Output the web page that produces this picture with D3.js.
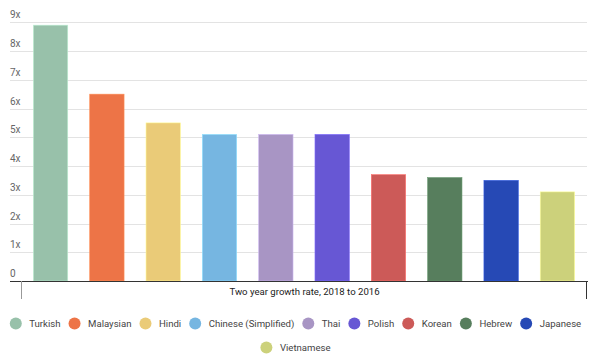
<!DOCTYPE html>
<html>
<head>
<meta charset="utf-8">
<script src="https://cdn.jsdelivr.net/npm/d3@7"></script>
<style>
  body { margin: 0; background: #fff; }
  text { font-family: Roboto, "Noto Sans", sans-serif; }
</style>
</head>
<body>
<svg id="chart" width="600" height="364"></svg>
<script>
const languages = ["Turkish", "Malaysian", "Hindi", "Chinese (Simplified)", "Thai", "Polish", "Korean", "Hebrew", "Japanese", "Vietnamese"];
const growth = [8.9, 6.5, 5.5, 5.1, 5.1, 5.1, 3.7, 3.6, 3.5, 3.1];
const colors = ["#98c1aa", "#ed7447", "#eacb78", "#76b6e1", "#a895c4", "#6757d4", "#cc5a58", "#577e5d", "#2649b5", "#ccd17b"];
const yTicks = [0, 1, 2, 3, 4, 5, 6, 7, 8, 9];
const categoryLabel = "Two year growth rate, 2018 to 2016";

const svg = d3.select("#chart");

const x = d3.scaleBand()
  .domain(languages)
  .range([21, 587])
  .paddingInner(0.39)
  .paddingOuter(0.22);

const y = d3.scaleLinear().domain([0, 9]).range([281, 22.3]);

// gridlines + labels
const grid = svg.append("g");
grid.selectAll("line")
  .data(yTicks.filter(d => d > 0))
  .join("line")
  .attr("x1", 10).attr("x2", 587)
  .attr("y1", d => Math.round(y(d)) + 0.5)
  .attr("y2", d => Math.round(y(d)) + 0.5)
  .attr("stroke", "#e3e3e3");

grid.selectAll("text")
  .data(yTicks)
  .join("text")
  .attr("x", 10)
  .attr("y", d => y(d) - 4)
  .attr("font-size", 10)
  .attr("fill", "#666")
  .text(d => d === 0 ? "0" : d + "x");

// bars
svg.append("g").selectAll("rect")
  .data(languages)
  .join("rect")
  .attr("x", d => x(d))
  .attr("width", x.bandwidth())
  .attr("y", (d, i) => y(growth[i]))
  .attr("height", (d, i) => y(0) - y(growth[i]))
  .attr("fill", (d, i) => colors[i])
  .attr("stroke", (d, i) => d3.color(colors[i]).brighter(0.6))
  .attr("stroke-width", 0.6);

// baseline and group brackets
const axis = svg.append("g");
axis.append("line")
  .attr("x1", 10).attr("x2", 588)
  .attr("y1", 281.5).attr("y2", 281.5)
  .attr("stroke", "#333").attr("stroke-width", 1);
axis.append("line")
  .attr("x1", 21.5).attr("x2", 21.5)
  .attr("y1", 281).attr("y2", 299)
  .attr("stroke", "#999");
axis.append("line")
  .attr("x1", 586.5).attr("x2", 586.5)
  .attr("y1", 281).attr("y2", 299)
  .attr("stroke", "#333");
axis.append("text")
  .attr("x", 304.5)
  .attr("y", 294.5)
  .attr("text-anchor", "middle")
  .attr("font-size", 9.6)
  .attr("fill", "#222")
  .text(categoryLabel);

// legend, centered flow layout
const legend = svg.append("g");
const items = legend.selectAll("g")
  .data(languages)
  .join("g");
items.append("circle")
  .attr("r", 6)
  .attr("cx", 6)
  .attr("fill", (d, i) => colors[i]);
items.append("text")
  .attr("x", 19.5)
  .attr("y", 3.5)
  .attr("font-size", 9.6)
  .attr("fill", "#444")
  .text(d => d);

const gap = 8, maxW = 580;
const rows = [];
let row = [], rowW = 0;
items.each(function () {
  const w = 19.5 + this.querySelector("text").getComputedTextLength();
  const add = row.length ? gap + w : w;
  if (row.length && rowW + add > maxW) {
    rows.push({ row, rowW });
    row = []; rowW = 0;
  }
  rowW += row.length ? gap + w : w;
  row.push({ node: this, w });
});
rows.push({ row, rowW });

rows.forEach((r, ri) => {
  let cx = 295.5 - r.rowW / 2;
  r.row.forEach(it => {
    d3.select(it.node).attr("transform", `translate(${cx},${323.5 + ri * 24})`);
    cx += it.w + gap;
  });
});
</script>
</body>
</html>
